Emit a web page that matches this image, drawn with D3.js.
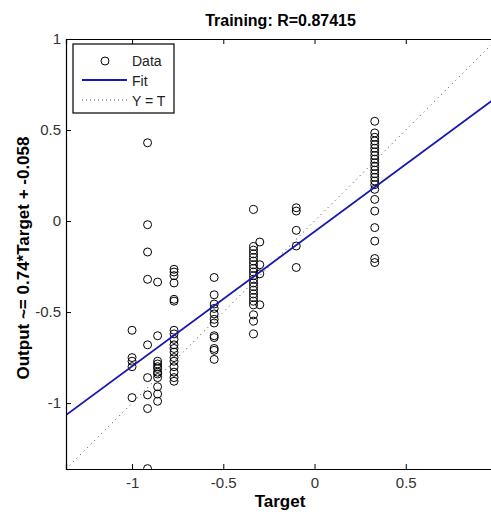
<!DOCTYPE html>
<html lang="en">
<head>
    <meta charset="UTF-8">
    <title>Training regression</title>
    <script src="https://d3js.org/d3.v7.min.js"></script>
    <style>
        body { margin: 0; background: #fff; }
        svg { display: block; overflow: hidden; }
        text { font-family: "Liberation Sans", Arial, sans-serif; }
        .axis path, .axis line { stroke: #000; }
        .axis text { font-size: 15px; fill: #333; }
        .marker { fill: none; stroke: #000; stroke-width: 1; }
    </style>
</head>
<body>
<div id="chart"></div>
<script>

    /* ---- data ---- */
    var title = "Training: R=0.87415";
    var xLabel = "Target";
    var yLabel = "Output ~= 0.74*Target + -0.058";
    var fitSlope = 0.74, fitIntercept = -0.058;
    var axisLimits = [-1.362, 1];
    var xTicks = [-1, -0.5, 0, 0.5];   // the tick at 1 falls past the picture's right edge
    var yTicks = [-1, -0.5, 0, 0.5, 1];

    // target value of each column of circles
    var targets = [-1, -0.915, -0.86, -0.77, -0.55, -0.334, -0.30, -0.10, 0.33];
    // network outputs for each of those targets
    var outputs = [
        [-0.60, -0.75, -0.77, -0.80, -0.97],
        [0.43, -0.02, -0.17, -0.32, -0.68, -0.86, -0.955, -1.03, -1.36],
        [-0.335, -0.63, -0.77, -0.785, -0.80, -0.81, -0.83, -0.84, -0.86, -0.91, -0.95, -0.99],
        [-0.265, -0.28, -0.30, -0.34, -0.43, -0.44, -0.60, -0.62, -0.65, -0.68, -0.70, -0.72, -0.75, -0.77, -0.80, -0.83, -0.86, -0.88],
        [-0.31, -0.405, -0.456, -0.48, -0.51, -0.54, -0.56, -0.63, -0.64, -0.70, -0.71, -0.76],
        [0.064, -0.14, -0.16, -0.18, -0.20, -0.22, -0.24, -0.26, -0.28, -0.30, -0.32, -0.34, -0.36, -0.38, -0.40, -0.42, -0.44, -0.46, -0.515, -0.55, -0.62],
        [-0.115, -0.24, -0.29, -0.46],
        [0.073, 0.055, -0.051, -0.137, -0.255],
        [0.548, 0.484, 0.46, 0.44, 0.42, 0.40, 0.38, 0.36, 0.34, 0.32, 0.30, 0.28, 0.26, 0.24, 0.22, 0.20, 0.174, 0.119, 0.055, -0.036, -0.11, -0.206, -0.228]
    ];

    var points = [];
    targets.forEach(function(t, i) {
        outputs[i].forEach(function(o) { points.push({t: t, o: o}); });
    });

    /* ---- layout ---- */
    var W = 491, H = 514;
    var margin = {top: 39, left: 66},
        width = 431,    // axes run past the right edge of the picture
        height = 430;

    var svg = d3.select("#chart").append("svg")
        .attr("width", W)
        .attr("height", H);

    var x = d3.scaleLinear().domain(axisLimits).range([margin.left, margin.left + width]);
    var y = d3.scaleLinear().domain(axisLimits).range([margin.top + height, margin.top]);

    svg.append("clipPath").attr("id", "plotclip")
        .append("rect")
        .attr("x", margin.left).attr("y", margin.top)
        .attr("width", width).attr("height", height);

    var plot = svg.append("g").attr("clip-path", "url(#plotclip)");

    // Y = T reference line
    plot.append("line")
        .attr("x1", x(axisLimits[0])).attr("y1", y(axisLimits[0]))
        .attr("x2", x(axisLimits[1])).attr("y2", y(axisLimits[1]))
        .attr("stroke", "#444")
        .attr("stroke-width", 1)
        .attr("stroke-dasharray", "1,4");

    // data circles
    plot.selectAll("circle.marker")
        .data(points)
        .enter().append("circle")
        .attr("class", "marker")
        .attr("cx", function(d) { return x(d.t); })
        .attr("cy", function(d) { return y(d.o); })
        .attr("r", 4);

    // fit line
    plot.append("line")
        .attr("x1", x(axisLimits[0])).attr("y1", y(fitSlope * axisLimits[0] + fitIntercept))
        .attr("x2", x(axisLimits[1])).attr("y2", y(fitSlope * axisLimits[1] + fitIntercept))
        .attr("stroke", "#1818b0")
        .attr("stroke-width", 1.8);

    /* ---- axes, ticks pointing inwards on all sides ---- */
    svg.append("g").attr("class", "axis")
        .attr("transform", "translate(0," + (margin.top + height) + ")")
        .call(d3.axisBottom(x).tickValues(xTicks).tickSize(-5).tickPadding(8)
            .tickFormat(function(d) { return d3.format("")(d); }));

    svg.append("g").attr("class", "axis")
        .attr("transform", "translate(0," + margin.top + ")")
        .call(d3.axisTop(x).tickValues(xTicks).tickSize(-5).tickFormat(""));

    svg.append("g").attr("class", "axis")
        .attr("transform", "translate(" + margin.left + ",0)")
        .call(d3.axisLeft(y).tickValues(yTicks).tickSize(-5).tickPadding(5)
            .tickFormat(function(d) { return d3.format("")(d); }));

    svg.selectAll(".axis .domain").attr("stroke-width", 1.2);
    svg.selectAll(".axis text").text(function() { return this.textContent.replace("\u2212", "-"); });

    /* ---- titles ---- */
    svg.append("text")
        .attr("x", x(0) - 34).attr("y", 26)
        .attr("text-anchor", "middle")
        .attr("font-size", "16px").attr("font-weight", "bold")
        .text(title);

    svg.append("text")
        .attr("x", 280).attr("y", 507)
        .attr("text-anchor", "middle")
        .attr("font-size", "17px").attr("font-weight", "bold")
        .text(xLabel);

    svg.append("text")
        .attr("transform", "translate(29," + (margin.top + height / 2 + 4) + ") rotate(-90)")
        .attr("text-anchor", "middle")
        .attr("font-size", "17px").attr("font-weight", "bold")
        .text(yLabel);

    /* ---- legend ---- */
    var lg = svg.append("g").attr("transform", "translate(73,44)");
    lg.append("rect")
        .attr("width", 101).attr("height", 69)
        .attr("fill", "#fff").attr("stroke", "#000").attr("stroke-width", 1.2);
    lg.append("circle").attr("class", "marker").attr("cx", 32).attr("cy", 17).attr("r", 4);
    lg.append("line").attr("x1", 9).attr("x2", 54).attr("y1", 36).attr("y2", 36)
        .attr("stroke", "#1818b0").attr("stroke-width", 1.8);
    lg.append("line").attr("x1", 9).attr("x2", 54).attr("y1", 56).attr("y2", 56)
        .attr("stroke", "#444").attr("stroke-dasharray", "1,3");
    var legendNames = ["Data", "Fit", "Y = T"];
    lg.selectAll("text.lbl")
        .data(legendNames)
        .enter().append("text")
        .attr("class", "lbl")
        .attr("x", 59)
        .attr("y", function(d, i) { return 22 + i * 20; })
        .attr("font-size", "14px")
        .attr("fill", "#222")
        .text(function(d) { return d; });

</script>
</body>
</html>
